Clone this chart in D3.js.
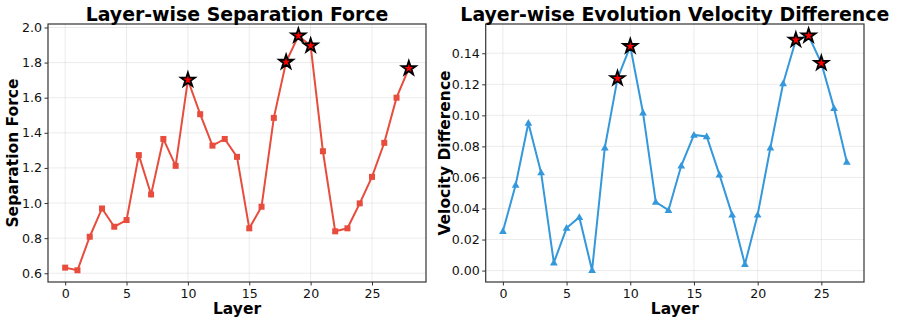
<!DOCTYPE html>
<html lang="en">
<head>
<meta charset="utf-8">
<title>Layer-wise Separation / Velocity</title>
<script src="https://d3js.org/d3.v7.min.js"></script>
<style>
  body { margin: 0; background: #fff; font-family: "DejaVu Sans", sans-serif; }
  .tick text { font-family: "DejaVu Sans", sans-serif; font-size: 12.6px; fill: #111; }
</style>
</head>
<body>
<script>
// layers 0..28 for separation force, 0..27 for velocity diff
var sepForce = [0.632, 0.617, 0.808, 0.969, 0.865, 0.903, 1.273, 1.049, 1.365, 1.212,
                1.701, 1.506, 1.327, 1.365, 1.263, 0.856, 0.979, 1.485, 1.803, 1.953,
                1.896, 1.295, 0.839, 0.856, 0.998, 1.149, 1.343, 1.600, 1.767];
var sepStars = [10, 18, 19, 20, 28];

var velDiff = [0.0254, 0.0551, 0.0951, 0.0631, 0.0051, 0.0274, 0.0344, 0.0002, 0.0791, 0.1238,
               0.1445, 0.1017, 0.0442, 0.0389, 0.0675, 0.0874, 0.0864, 0.0618, 0.0359, 0.0041,
               0.0359, 0.0791, 0.1205, 0.1486, 0.1513, 0.1336, 0.1045, 0.0699];
var velStars = [9, 10, 23, 24, 25];

var xTicks = [0, 5, 10, 15, 20, 25];
var sepTicks = [0.6, 0.8, 1.0, 1.2, 1.4, 1.6, 1.8, 2.0];
var velTicks = [0.00, 0.02, 0.04, 0.06, 0.08, 0.10, 0.12, 0.14];

var W = 897, H = 323;
var svg = d3.select("body").append("svg").attr("width", W).attr("height", H);

function panel(opt) {
  var vals = opt.values;
  var n = vals.length - 1;
  var xm = n * 0.05;
  var ymin = d3.min(vals), ymax = d3.max(vals), ym = (ymax - ymin) * 0.05;

  var x = d3.scaleLinear().domain([-xm, n + xm]).range([opt.left, opt.right]);
  var y = d3.scaleLinear().domain([ymin - ym, ymax + ym]).range([opt.bottom, opt.top]);

  var g = svg.append("g");

  // grid
  g.selectAll("line.gx").data(xTicks).enter().append("line")
    .attr("x1", function(d) { return x(d); }).attr("x2", function(d) { return x(d); })
    .attr("y1", opt.top).attr("y2", opt.bottom)
    .attr("stroke", "#b0b0b0").attr("stroke-opacity", 0.3).attr("stroke-width", 0.8);
  g.selectAll("line.gy").data(opt.yTicks).enter().append("line")
    .attr("y1", function(d) { return y(d); }).attr("y2", function(d) { return y(d); })
    .attr("x1", opt.left).attr("x2", opt.right)
    .attr("stroke", "#b0b0b0").attr("stroke-opacity", 0.3).attr("stroke-width", 0.8);

  // axes
  var xAxis = d3.axisBottom(x).tickValues(xTicks).tickFormat(d3.format("d")).tickSize(3.5).tickPadding(3.5);
  var yAxis = d3.axisLeft(y).tickValues(opt.yTicks).tickFormat(d3.format(opt.fmt)).tickSize(3.5).tickPadding(2.5);
  var gx = g.append("g").attr("transform", "translate(0," + opt.bottom + ")").call(xAxis);
  var gy = g.append("g").attr("transform", "translate(" + opt.left + ",0)").call(yAxis);
  [gx, gy].forEach(function(a) {
    a.select(".domain").remove();
    a.selectAll(".tick line").attr("stroke", "#333").attr("stroke-width", 1);
  });

  // line
  var line = d3.line().x(function(d, i) { return x(i); }).y(function(d) { return y(d); });
  g.append("path").datum(vals).attr("d", line)
    .attr("fill", "none").attr("stroke", opt.color).attr("stroke-width", 2);

  // markers
  if (opt.marker == "square") {
    g.selectAll("rect.m").data(vals).enter().append("rect")
      .attr("x", function(d, i) { return x(i) - 3; })
      .attr("y", function(d) { return y(d) - 3; })
      .attr("width", 6).attr("height", 6)
      .attr("fill", opt.color);
  } else {
    var tri = d3.symbol().type(d3.symbolTriangle).size(26);
    g.selectAll("path.m").data(vals).enter().append("path")
      .attr("d", tri)
      .attr("transform", function(d, i) { return "translate(" + x(i) + "," + (y(d) + 0.5) + ")"; })
      .attr("fill", opt.color);
  }

  // stars
  var star = d3.symbol().type(d3.symbolStar).size(62);
  g.selectAll("path.s").data(opt.stars).enter().append("path")
    .attr("d", star)
    .attr("transform", function(d) { return "translate(" + x(d) + "," + y(vals[d]) + ")"; })
    .attr("fill", "#ff0000").attr("stroke", "#000").attr("stroke-width", 1.8);

  // frame
  g.append("rect")
    .attr("x", opt.left).attr("y", opt.top)
    .attr("width", opt.right - opt.left).attr("height", opt.bottom - opt.top)
    .attr("fill", "none").attr("stroke", "#333").attr("stroke-width", 1.2);

  // texts
  var cx = (opt.left + opt.right) / 2;
  g.append("text").attr("x", cx).attr("y", 20.5).attr("text-anchor", "middle")
    .attr("font-size", "18.9px").attr("font-weight", "bold").attr("fill", "#000")
    .text(opt.title);
  g.append("text").attr("x", cx).attr("y", 314).attr("text-anchor", "middle")
    .attr("font-size", "15.5px").attr("font-weight", "bold").attr("fill", "#000")
    .text("Layer");
  g.append("text")
    .attr("transform", "translate(" + opt.ylabX + "," + ((opt.top + opt.bottom) / 2) + ") rotate(-90)")
    .attr("text-anchor", "middle")
    .attr("font-size", "15.5px").attr("font-weight", "bold").attr("fill", "#000")
    .text(opt.ylabel);
}

panel({
  values: sepForce, stars: sepStars, yTicks: sepTicks, fmt: ".1f",
  left: 48, right: 426, top: 24, bottom: 282,
  color: "#e74c3c", marker: "square",
  title: "Layer-wise Separation Force", ylabel: "Separation Force", ylabX: 18
});

panel({
  values: velDiff, stars: velStars, yTicks: velTicks, fmt: ".2f",
  left: 485.7, right: 864, top: 24, bottom: 282,
  color: "#3498db", marker: "triangle",
  title: "Layer-wise Evolution Velocity Difference", ylabel: "Velocity Difference", ylabX: 450
});
</script>
</body>
</html>
